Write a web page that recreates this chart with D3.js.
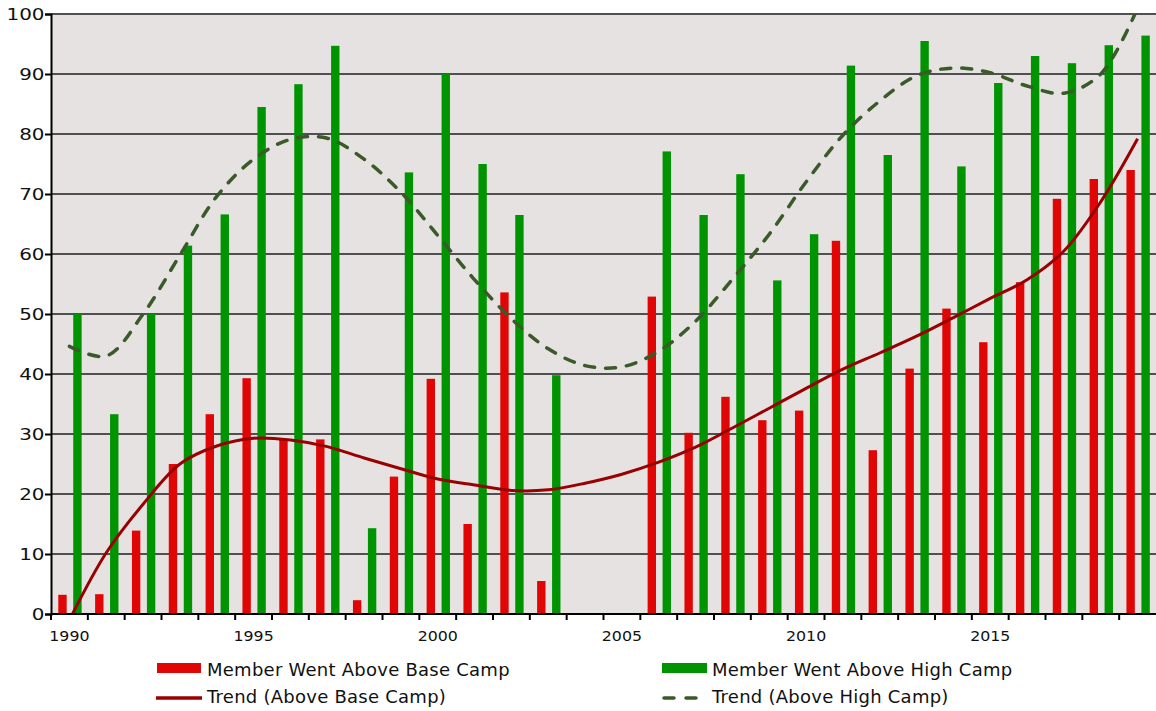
<!DOCTYPE html>
<html>
<head>
<meta charset="utf-8">
<script src="https://cdn.jsdelivr.net/npm/d3@7"></script>
<style>
  html, body { margin: 0; padding: 0; background: #ffffff; }
  svg { display: block; font-family: "DejaVu Sans", Verdana, sans-serif; }
</style>
</head>
<body>
<svg id="chart" width="1156" height="711"></svg>
<script>
// ---- data ----
const years = [1990,1991,1992,1993,1994,1995,1996,1997,1998,1999,2000,2001,2002,2003,2004,
               2005,2006,2007,2008,2009,2010,2011,2012,2013,2014,2015,2016,2017,2018,2019];
const aboveBaseCamp = [3.2,3.3,13.9,25.0,33.3,39.3,29.2,29.1,2.3,22.9,39.2,15.0,53.6,5.5,null,
                       null,52.9,30.2,36.2,32.3,33.9,62.2,27.3,40.9,50.9,45.3,55.3,69.2,72.5,74.0];
const aboveHighCamp = [50.0,33.3,50.0,61.4,66.6,84.5,88.3,94.7,14.3,73.6,90.0,75.0,66.5,39.8,null,
                       null,77.1,66.5,73.3,55.6,63.3,91.4,76.5,95.5,74.6,88.5,93.0,91.8,94.8,96.4];
const trendBaseCamp = [-1.0,10.2,18.3,25.0,28.0,29.3,29.0,27.9,26.0,24.2,22.5,21.5,20.6,20.7,21.8,
                       23.3,25.3,27.8,31.0,34.3,37.6,40.8,43.5,46.3,49.4,52.6,55.7,60.5,68.7,79.2];
const trendHighCamp = [44.6,43.0,50.0,59.8,69.6,75.8,79.1,79.3,75.8,70.3,63.1,55.7,49.2,44.2,41.4,
                       41.2,43.8,48.8,55.8,63.3,72.0,79.8,85.5,89.7,91.0,90.2,88.0,86.8,90.0,101.0];
const yTicks = [0,10,20,30,40,50,60,70,80,90,100];
const xLabelYears = [1990,1995,2000,2005,2010,2015];
const seriesKeys = ["base","high"];
const seriesNames = ["Member Went Above Base Camp","Member Went Above High Camp",
                     "Trend (Above Base Camp)","Trend (Above High Camp)"];

// ---- layout ----
const W = 1156, H = 711;
const plot = {left: 51, right: 1156, top: 14, bottom: 614};
const colors = {base: "#e00606", high: "#009400", trendBase: "#990000", trendHigh: "#3a5a2a",
                bg: "#e6e2e2", grid: "#505050"};

const svg = d3.select("#chart");

const x = d3.scaleBand().domain(years).range([plot.left, plot.right]).padding(0);
const xs = d3.scaleBand().domain(seriesKeys).range([0, x.bandwidth()])
  .paddingInner(0.44).paddingOuter(0.45).align(0.54);
const y = d3.scaleLinear().domain([0, 100]).range([plot.bottom, plot.top]);

// background
svg.append("rect").attr("x", plot.left).attr("y", plot.top)
  .attr("width", plot.right - plot.left).attr("height", plot.bottom - plot.top)
  .attr("fill", colors.bg);

// grid lines
svg.append("g").selectAll("line").data(yTicks.filter(d => d > 0)).join("line")
  .attr("x1", plot.left).attr("x2", plot.right)
  .attr("y1", d => y(d)).attr("y2", d => y(d))
  .attr("stroke", colors.grid).attr("stroke-width", 2);

// bars
const rows = years.map((yr, i) => ({year: yr, base: aboveBaseCamp[i], high: aboveHighCamp[i]}));
const gBars = svg.append("g");
seriesKeys.forEach(k => {
  gBars.append("g").selectAll("rect")
    .data(rows.filter(r => r[k] != null)).join("rect")
    .attr("x", r => x(r.year) + xs(k))
    .attr("width", xs.bandwidth())
    .attr("y", r => y(r[k]))
    .attr("height", r => y(0) - y(r[k]))
    .attr("fill", colors[k]);
});

// clip for trends
svg.append("clipPath").attr("id", "plotclip").append("rect")
  .attr("x", plot.left).attr("y", plot.top)
  .attr("width", plot.right - plot.left).attr("height", plot.bottom - plot.top);

const line = d3.line()
  .x((d, i) => x(years[i]) + x.bandwidth() / 2)
  .y(d => y(d))
  .curve(d3.curveCatmullRom.alpha(0.5));

const gTrend = svg.append("g").attr("clip-path", "url(#plotclip)");
gTrend.append("path").attr("d", line(trendHighCamp))
  .attr("fill", "none").attr("stroke", colors.trendHigh).attr("stroke-width", 3.5)
  .attr("stroke-dasharray", "10,11").attr("stroke-linecap", "round");
gTrend.append("path").attr("d", line(trendBaseCamp))
  .attr("fill", "none").attr("stroke", colors.trendBase).attr("stroke-width", 3);

// y axis
const yAxis = d3.axisLeft(y).tickValues(yTicks).tickSize(6).tickPadding(3);
const gy = svg.append("g").attr("transform", `translate(${plot.left},0)`).call(yAxis);
gy.select(".domain").attr("stroke", "#000").attr("stroke-width", 2);
gy.selectAll(".tick line").attr("stroke", "#000").attr("stroke-width", 2);
gy.selectAll(".tick text")
  .attr("font-size", 15).attr("fill", "#111")
  .attr("font-family", "DejaVu Sans, Verdana, sans-serif")
  .attr("x", 0).attr("dy", "0.34em")
  .attr("transform", "translate(-6.5,0) scale(1.33,1)");

// x axis: ticks at band edges, labels at band centres
const gx = svg.append("g");
gx.append("line").attr("x1", plot.left).attr("x2", plot.right)
  .attr("y1", plot.bottom).attr("y2", plot.bottom)
  .attr("stroke", "#000").attr("stroke-width", 2);
gx.selectAll("line.tk").data(years).join("line").attr("class", "tk")
  .attr("x1", d => x(d)).attr("x2", d => x(d))
  .attr("y1", plot.bottom).attr("y2", plot.bottom + 6)
  .attr("stroke", "#000").attr("stroke-width", 2);
gx.selectAll("text").data(xLabelYears).join("text")
  .attr("transform", d => `translate(${x(d) + x.bandwidth() / 2},641) scale(1.13,1)`)
  .attr("text-anchor", "middle").attr("font-size", 14)
  .attr("fill", "#111")
  .text(d => d);

// legend
const lg = svg.append("g").attr("font-size", 18).attr("fill", "#111").attr("letter-spacing", 0.25);
lg.append("rect").attr("x", 157).attr("y", 663).attr("width", 44).attr("height", 10).attr("fill", colors.base);
lg.append("text").attr("x", 207).attr("y", 676).text(seriesNames[0]);
lg.append("line").attr("x1", 156).attr("x2", 202).attr("y1", 698).attr("y2", 698)
  .attr("stroke", colors.trendBase).attr("stroke-width", 3.5);
lg.append("text").attr("x", 207).attr("y", 703).text(seriesNames[2]);

lg.append("rect").attr("x", 662).attr("y", 663).attr("width", 45).attr("height", 10).attr("fill", colors.high);
lg.append("text").attr("x", 712).attr("y", 676).text(seriesNames[1]);
lg.append("line").attr("x1", 664).attr("x2", 706).attr("y1", 698).attr("y2", 698)
  .attr("stroke", colors.trendHigh).attr("stroke-width", 3.5)
  .attr("stroke-dasharray", "10,12").attr("stroke-linecap", "round");
lg.append("text").attr("x", 712).attr("y", 703).text(seriesNames[3]);
</script>
</body>
</html>
